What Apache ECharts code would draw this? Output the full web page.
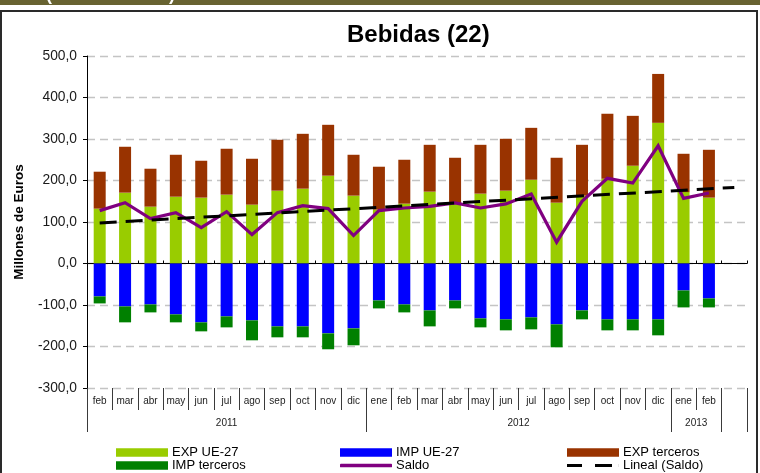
<!DOCTYPE html>
<html>
<head>
<meta charset="utf-8">
<title>Bebidas (22)</title>
<script src="https://cdn.jsdelivr.net/npm/echarts@6/dist/echarts.min.js"></script>
<style>
  html, body { margin: 0; padding: 0; background: #fff; }
  #chart { width: 760px; height: 473px; }
</style>
</head>
<body>
<div id="chart"></div>
<script>
// Monthly periods (month + year); the last slot is left empty
const periods = [
  'feb 2011', 'mar 2011', 'abr 2011', 'may 2011', 'jun 2011', 'jul 2011',
  'ago 2011', 'sep 2011', 'oct 2011', 'nov 2011', 'dic 2011',
  'ene 2012', 'feb 2012', 'mar 2012', 'abr 2012', 'may 2012', 'jun 2012',
  'jul 2012', 'ago 2012', 'sep 2012', 'oct 2012', 'nov 2012', 'dic 2012',
  'ene 2013', 'feb 2013', ''
];

// Millones de euros
const expUE = [132.2, 170.7, 137.0, 161.0, 158.7, 165.9, 141.8, 175.5, 180.3, 211.6, 163.5,
  129.8, 144.2, 173.1, 145.0, 168.3, 175.5, 201.9, 146.6, 163.5, 204.3, 235.6, 339.0,
  172.0, 158.7];
const expTerceros = [89.0, 110.6, 91.4, 101.0, 88.9, 110.6, 110.6, 122.6, 132.2, 122.6, 98.5,
  103.4, 105.8, 112.9, 109.8, 117.7, 125.0, 125.0, 108.2, 122.5, 156.3, 120.2, 117.8,
  92.4, 115.3];
const impUE = [-79.3, -103.4, -98.6, -122.6, -141.8, -127.4, -137.0, -151.5, -151.5, -168.3, -156.3,
  -89.0, -98.6, -113.0, -89.0, -132.2, -134.6, -129.8, -146.6, -113.0, -134.6, -134.6, -134.6,
  -64.9, -84.1];
const impTerceros = [-16.9, -38.4, -19.2, -19.2, -21.7, -26.5, -48.1, -26.4, -26.4, -38.4, -40.8,
  -19.2, -19.2, -38.5, -19.2, -21.7, -26.5, -28.9, -55.3, -21.6, -26.5, -26.5, -38.5,
  -40.9, -21.7];
const saldo = [127.4, 146.6, 108.2, 122.6, 86.5, 125.0, 69.7, 122.6, 139.4, 132.2, 67.3,
  127.4, 133.8, 137.8, 145.8, 133.8, 143.5, 167.5, 51.3, 149.8, 205.2, 193.9, 283.7,
  157.0, 170.0];
// Linear trend of the balance: start and end points [slot index, value]
const lineal = [[0, 97.8], [25, 183.4]];

// Y axis range and step
const yMin = -300, yMax = 500, yStep = 100;

const FONT = "'Liberation Sans', Arial, sans-serif";

// Year groups derived from the periods (boundaries and centres in slot units)
const yearBounds = [0];
const yearCenters = [];
const yearNames = [];
(function () {
  let start = 0;
  let cur = periods[0].split(' ')[1];
  for (let i = 1; i <= periods.length; i++) {
    const y = i < periods.length ? (periods[i].split(' ')[1] || '') : null;
    if (y !== cur) {
      if (cur) {
        yearCenters.push((start + i) / 2);
        yearNames.push(cur);
      }
      yearBounds.push(i);
      start = i;
      cur = y;
    }
  }
})();

const chart = echarts.init(document.getElementById('chart'), null, { renderer: 'canvas' });

function legendBox(name, left, top, opts) {
  return Object.assign({
    data: [name],
    left: left,
    top: top,
    orient: 'horizontal',
    padding: 0,
    itemGap: 0,
    itemWidth: 52,
    itemHeight: 8.5,
    icon: 'rect',
    selectedMode: false,
    textStyle: { fontFamily: FONT, fontSize: 13, color: '#000', lineHeight: 13, padding: [0, 0, 0, -1] }
  }, opts || {});
}

const option = {
  animation: false,
  backgroundColor: '#fff',
  textStyle: { fontFamily: FONT },
  title: {
    text: 'Bebidas (22)',
    left: 347,
    top: 23,
    padding: 0,
    textStyle: { fontFamily: FONT, fontSize: 24, fontWeight: 'bold', color: '#000' }
  },
  graphic: [
    { type: 'rect', shape: { x: 0, y: 0, width: 760, height: 5 }, style: { fill: '#686331' }, silent: true },
    { type: 'text', x: 46, y: 4.5, style: { text: '(', fill: '#fff', font: 'bold 18px ' + FONT, verticalAlign: 'bottom' }, silent: true },
    { type: 'text', x: 169, y: 4.5, style: { text: ')', fill: '#fff', font: 'bold 18px ' + FONT, verticalAlign: 'bottom' }, silent: true },
    { type: 'rect', shape: { x: 1, y: 11, width: 756, height: 470 }, style: { fill: null, stroke: '#2a2a2a', lineWidth: 2 }, silent: true, z: -1 }
  ],
  legend: [
    legendBox('EXP UE-27', 116, 446),
    legendBox('IMP terceros', 116, 459),
    legendBox('IMP UE-27', 340, 446),
    legendBox('Saldo', 340, 459, { itemHeight: 3.5, icon: 'roundRect', itemStyle: { color: '#800080' } }),
    legendBox('EXP terceros', 567, 446),
    legendBox('Lineal (Saldo)', 567, 459, {
      itemHeight: 3,
      icon: 'path://M0,0H15V3H0Z M28,0H45V3H28Z M51.9,0H52V3H51.9Z',
      itemStyle: { color: '#000' }
    })
  ],
  grid: { left: 87, right: 13, top: 56, bottom: 85, containLabel: false, outerBoundsMode: 'none' },
  xAxis: [
    {
      // axis drawn along the zero line
      type: 'category',
      data: periods,
      boundaryGap: true,
      axisLine: { show: true, onZero: true, lineStyle: { color: '#000', width: 1 } },
      axisTick: { show: true, inside: true, length: 3, interval: 0, lineStyle: { color: '#000' } },
      axisLabel: { show: false },
      splitLine: { show: false }
    },
    {
      // month labels under the plot
      type: 'category',
      data: periods,
      position: 'bottom',
      boundaryGap: true,
      axisLine: { show: false, onZero: false },
      axisTick: { show: true, length: 22, interval: 0, lineStyle: { color: '#3a3a3a', width: 1 } },
      axisLabel: {
        interval: 0, margin: 8, fontFamily: FONT, fontSize: 10, color: '#222',
        formatter: function (v) { return v.split(' ')[0]; }
      },
      splitLine: { show: false }
    },
    {
      // year groups
      type: 'value',
      min: 0,
      max: periods.length,
      position: 'bottom',
      axisLine: { show: false, onZero: false },
      axisTick: { show: true, length: 44, customValues: yearBounds, lineStyle: { color: '#3a3a3a', width: 1 } },
      axisLabel: {
        customValues: yearCenters, margin: 30, fontFamily: FONT, fontSize: 10, color: '#222',
        formatter: function (v) {
          const k = yearCenters.indexOf(v);
          return k >= 0 ? yearNames[k] : '';
        }
      },
      splitLine: { show: false }
    }
  ],
  yAxis: {
    type: 'value',
    min: yMin,
    max: yMax,
    interval: yStep,
    name: 'Millones de Euros',
    nameLocation: 'middle',
    nameGap: 61,
    nameTextStyle: { fontFamily: FONT, fontSize: 13.5, fontWeight: 'bold', color: '#000' },
    axisLine: { show: true, onZero: false, lineStyle: { color: '#000', width: 1 } },
    axisTick: { show: true, length: 4, lineStyle: { color: '#000' } },
    axisLabel: {
      margin: 10, fontFamily: FONT, fontSize: 13.8, color: '#1a1a1a',
      formatter: function (v) { return v.toFixed(1).replace('.', ','); }
    },
    splitLine: { show: true, lineStyle: { color: '#c4c4c4', width: 1.3, type: [8, 5] } }
  },
  series: [
    { name: 'EXP UE-27', type: 'bar', stack: 'trade', xAxisIndex: 0, barWidth: 12, data: expUE, itemStyle: { color: '#99CC00' } },
    { name: 'IMP UE-27', type: 'bar', stack: 'trade', xAxisIndex: 0, barWidth: 12, data: impUE, itemStyle: { color: '#0000FF' } },
    { name: 'EXP terceros', type: 'bar', stack: 'trade', xAxisIndex: 0, barWidth: 12, data: expTerceros, itemStyle: { color: '#993300' } },
    { name: 'IMP terceros', type: 'bar', stack: 'trade', xAxisIndex: 0, barWidth: 12, data: impTerceros, itemStyle: { color: '#008000' } },
    {
      name: 'Saldo', type: 'line', xAxisIndex: 0, data: saldo, symbol: 'none',
      lineStyle: { color: '#800080', width: 3.2, join: 'miter' }, itemStyle: { color: '#800080' }, z: 3
    },
    {
      name: 'Lineal (Saldo)', type: 'line', xAxisIndex: 0, data: lineal, symbol: 'none',
      lineStyle: { color: '#000', width: 3, type: [17, 9] }, itemStyle: { color: '#000' }, z: 4
    }
  ]
};

chart.setOption(option);
</script>
</body>
</html>
